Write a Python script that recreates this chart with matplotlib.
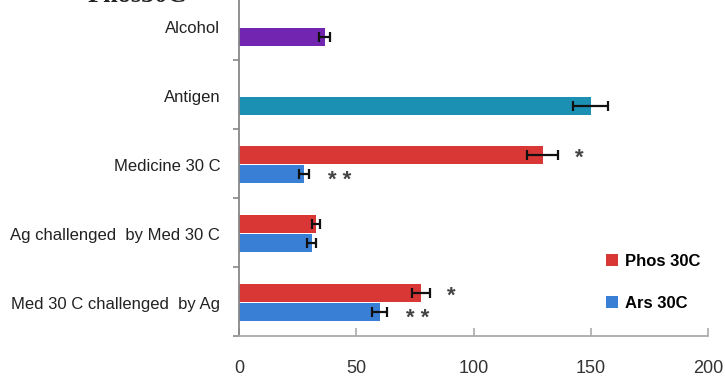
import numpy as np
import matplotlib
matplotlib.use('Agg')
import matplotlib.pyplot as plt

plt.rcParams['font.family'] = ['Liberation Sans', 'DejaVu Sans']

# Groups, top to bottom
categories = ["Alcohol", "Antigen", "Medicine 30 C",
              "Ag challenged  by Med 30 C", "Med 30 C challenged  by Ag"]

# Controls (single bars)
control_values = [36.5, 150.0]
control_errors = [2.2, 7.5]
control_colors = ['#7125B0', '#1C90B2']

# Treated groups: Phos 30C (red) and Ars 30C (blue)
phos_values = [129.5, 32.8, 77.6]
phos_errors = [6.5, 1.8, 4.0]
ars_values = [27.7, 31.0, 60.0]
ars_errors = [2.3, 1.8, 3.2]

phos_marks = ["*", "", "*"]
ars_marks = ["* *", "", "* *"]

fig = plt.figure(figsize=(7.25, 3.8), dpi=100)
ax = fig.add_axes([239 / 725, 44 / 380, 469 / 725, 345 / 380])

bh = 0.26
err_kw = dict(ecolor='#111111', elinewidth=1.6, capsize=3.5, capthick=1.6)

ctrl_y = np.arange(len(control_values)) + 0.5
ax.barh(ctrl_y + 0.16, control_values, height=bh, color=control_colors,
        xerr=control_errors, error_kw=err_kw)

grp_y = np.arange(len(phos_values)) + 2.5
ax.barh(grp_y - 0.12, phos_values, height=bh, color='#D93636',
        xerr=phos_errors, error_kw=err_kw, label='Phos 30C')
ax.barh(grp_y + 0.15, ars_values, height=bh, color='#3A7FD6',
        xerr=ars_errors, error_kw=err_kw, label='Ars 30C')

# significance marks
for y, v, e, m in zip(grp_y, phos_values, phos_errors, phos_marks):
    if m:
        ax.text(v + e + 9, y - 0.08, m, ha='center', va='center',
                fontsize=16, fontweight='bold', color='#444444')
for y, v, e, m in zip(grp_y, ars_values, ars_errors, ars_marks):
    if m:
        ax.text(v + e + 13, y + 0.24, m, ha='center', va='center',
                fontsize=16, fontweight='bold', color='#444444')

ax.set_xlim(0, 200)
ax.set_ylim(len(categories), 0)
ax.set_xticks([0, 50, 100, 150, 200])
ax.set_yticks(np.arange(len(categories) + 1))
ax.set_yticklabels([])
ax.tick_params(axis='y', length=4, width=1.2, color='#888888', direction='out')
ax.tick_params(axis='x', length=6, width=1.2, color='#aaaaaa', direction='in',
               labelsize=13, pad=17, labelcolor='#333333')
for y, name in zip(np.arange(len(categories)) + 0.5, categories):
    ax.text(-0.04, y + 0.05, name, transform=ax.get_yaxis_transform(),
            ha='right', va='center', fontsize=12, color='#222222')

for s in ['top', 'right']:
    ax.spines[s].set_visible(False)
ax.spines['left'].set_color('#888888')
ax.spines['left'].set_linewidth(1.3)
ax.spines['bottom'].set_color('#aaaaaa')
ax.spines['bottom'].set_linewidth(1.3)

ax.legend(loc='lower right', bbox_to_anchor=(1.015, 0.03), frameon=False,
          prop={'weight': 'bold', 'size': 12}, handlelength=0.7,
          handleheight=0.7, labelspacing=1.6, handletextpad=0.4)

fig.text(88 / 725, 1 - 2 / 380, "Phos30C", fontsize=19, fontweight='bold',
         family='Liberation Serif', va='baseline', color='#222222')

fig.savefig('out.png', dpi=100)
